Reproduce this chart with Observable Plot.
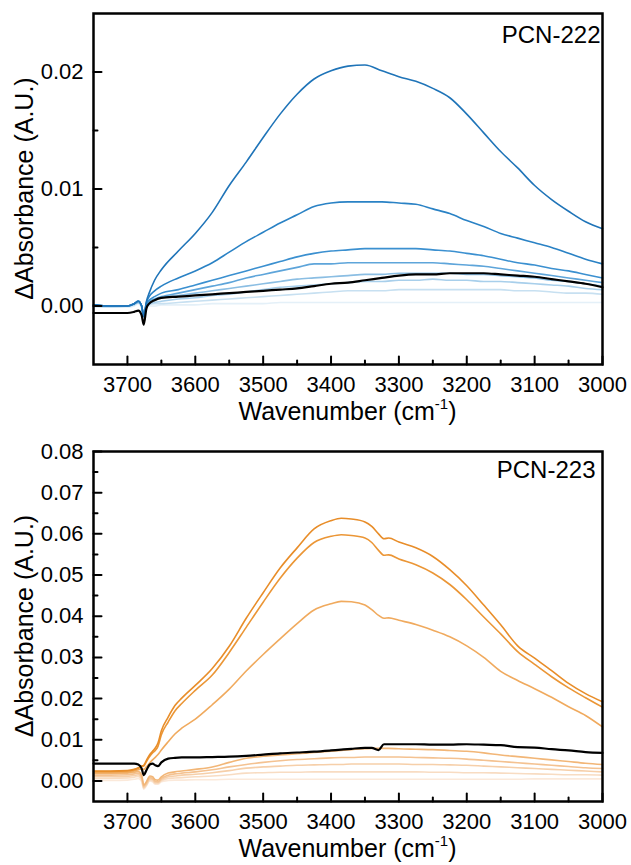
<!DOCTYPE html>
<html><head><meta charset="utf-8">
<script src="https://cdn.jsdelivr.net/npm/d3@7"></script>
<script src="https://cdn.jsdelivr.net/npm/@observablehq/plot@0.6"></script>
<style>
html,body{margin:0;padding:0;background:#fff;}
#chart{width:631px;}
#chart svg{display:block;}
</style></head><body><div id="chart"></div>
<script>
// ---------- Top panel: PCN-222 ----------
const wnTop = [3750,3725,3700,3690,3684,3679,3676,3672,3668,3660,3650,3625,3600,3575,3550,3525,3500,3475,3450,3425,3400,3375,3350,3325,3300,3275,3250,3225,3200,3175,3150,3125,3100,3075,3050,3025,3000];
const b1 = [0.0001,0.0000,0.0000,0.0002,0.0004,0.0000,-0.0009,0.0004,0.0011,0.0022,0.0031,0.0047, 0.0062,0.0080,0.0103,0.0123,0.0144,0.0164,0.0181,0.0194,0.0201,0.0205,0.0206,0.0201, 0.0196,0.0192,0.0186,0.0178,0.0164,0.0148,0.0132,0.0118,0.0103,0.0091,0.0081,0.0072,0.0066];
const b2 = [0.0001,0.0000,0.0000,0.0002,0.0004,0.0000,-0.0009,0.0003,0.0008,0.0013,0.0017,0.0024, 0.0030,0.0037,0.0046,0.0055,0.0063,0.0071,0.0078,0.0085,0.0088,0.0089,0.0089,0.0089, 0.0088,0.0087,0.0083,0.0079,0.0073,0.0068,0.0062,0.0058,0.0054,0.0050,0.0045,0.0040,0.0036];
const b3 = [0.0001,0.0000,0.0000,0.0002,0.0004,0.0000,-0.0009,0.0002,0.0005,0.0008,0.0011,0.0014, 0.0018,0.0022,0.0026,0.0030,0.0034,0.0038,0.0042,0.0045,0.0047,0.0048,0.0049,0.0049, 0.0049,0.0049,0.0048,0.0047,0.0045,0.0043,0.0040,0.0037,0.0035,0.0032,0.0030,0.0027,0.0024];
const b4 = [0.0000,0.0000,0.0000,0.0002,0.0004,0.0000,-0.0009,0.0001,0.0004,0.0006,0.0008,0.0011, 0.0014,0.0017,0.0020,0.0024,0.0027,0.0030,0.0033,0.0036,0.0036,0.0037,0.0037,0.0037, 0.0037,0.0037,0.0037,0.0036,0.0035,0.0034,0.0032,0.0030,0.0028,0.0026,0.0024,0.0022,0.0020];
const b5 = [0.0000,0.0000,0.0000,0.0002,0.0003,0.0000,-0.0009,0.0000,0.0003,0.0005,0.0007,0.0009, 0.0011,0.0013,0.0015,0.0017,0.0019,0.0021,0.0023,0.0024,0.0025,0.0026,0.0027,0.0027, 0.0028,0.0028,0.0028,0.0028,0.0027,0.0027,0.0026,0.0025,0.0024,0.0022,0.0021,0.0019,0.0017];
const b6 = [0.0000,0.0000,0.0000,0.0001,0.0003,-0.0001,-0.0009,0.0000,0.0002,0.0003,0.0004,0.0006, 0.0007,0.0009,0.0010,0.0012,0.0014,0.0016,0.0017,0.0018,0.0019,0.0020,0.0021,0.0021, 0.0022,0.0022,0.0023,0.0022,0.0022,0.0021,0.0021,0.0020,0.0019,0.0018,0.0017,0.0015,0.0014];
const b7 = [0.0000,-0.0001,0.0000,0.0001,0.0003,-0.0001,-0.0009,-0.0001,0.0001,0.0002,0.0002,0.0003, 0.0004,0.0005,0.0006,0.0007,0.0008,0.0009,0.0010,0.0011,0.0012,0.0013,0.0013,0.0013, 0.0014,0.0014,0.0014,0.0014,0.0014,0.0014,0.0014,0.0013,0.0013,0.0012,0.0011,0.0011,0.0010];
const b8 = [-0.0001,-0.0001,-0.0001,0.0000,0.0002,-0.0002,-0.0009,-0.0002,0.0000,0.0000,0.0001,0.0001, 0.0001,0.0002,0.0002,0.0002,0.0002,0.0003,0.0003,0.0003,0.0003,0.0003,0.0003,0.0003, 0.0003,0.0003,0.0003,0.0003,0.0003,0.0003,0.0003,0.0003,0.0003,0.0003,0.0003,0.0003,0.0003];
const k1 = [-0.0006,-0.0006,-0.0006,-0.0005,-0.0004,-0.0008,-0.0016,-0.0002,0.0002,0.0005,0.0007,0.0008, 0.0009,0.0010,0.0011,0.0012,0.0013,0.0014,0.0015,0.0017,0.0019,0.0020,0.0022,0.0024, 0.0026,0.0027,0.0027,0.0028,0.0028,0.0028,0.0027,0.0026,0.0025,0.0023,0.0021,0.0019,0.0016];
const blueSeries = [b8,b7,b6,b5,b4,b3,b2,b1];
const blueColors = ["#e4f0f8","#c7e0f1","#a8cfeb","#8bbee3","#5ea5da","#3b90d0","#2a82c5","#1f74b8"];
const yTopDomain = [-0.005, 0.025];
const yTopMajor = [0.00, 0.01, 0.02];
const yTopMinor = [0.005, 0.015];

// ---------- Bottom panel: PCN-223 ----------
const wnBot = [3750,3725,3700,3690,3684,3679,3676,3672,3667,3663,3659,3655,3650,3640,3630,3620,3600,3575,3550,3525,3500,3475,3450,3425,3400,3385,3370,3350,3340,3330,3322,3315,3300,3275,3250,3225,3200,3175,3150,3125,3100,3075,3050,3025,3000];
const o1 = [0.0024,0.0024,0.0025,0.0028,0.0032,0.0036,0.0038,0.0050,0.0064,0.0072,0.0080,0.0092, 0.0122,0.0155,0.0183,0.0201,0.0232,0.0273,0.0327,0.0395,0.0457,0.0517,0.0566,0.0612, 0.0632,0.0638,0.0636,0.0629,0.0618,0.0600,0.0588,0.0590,0.0580,0.0566,0.0545,0.0513, 0.0474,0.0427,0.0379,0.0328,0.0298,0.0268,0.0237,0.0212,0.0192];
const o2 = [0.0023,0.0023,0.0024,0.0027,0.0031,0.0035,0.0036,0.0047,0.0060,0.0068,0.0074,0.0084, 0.0112,0.0143,0.0170,0.0188,0.0220,0.0257,0.0312,0.0373,0.0434,0.0492,0.0541,0.0579, 0.0594,0.0598,0.0596,0.0590,0.0579,0.0560,0.0548,0.0549,0.0539,0.0525,0.0505,0.0477, 0.0440,0.0398,0.0357,0.0314,0.0283,0.0253,0.0226,0.0202,0.0179];
const o3 = [0.0020,0.0020,0.0021,0.0024,0.0027,0.0029,0.0028,0.0034,0.0044,0.0051,0.0057,0.0064, 0.0075,0.0095,0.0114,0.0128,0.0150,0.0185,0.0223,0.0267,0.0307,0.0345,0.0382,0.0415, 0.0430,0.0436,0.0435,0.0427,0.0416,0.0402,0.0395,0.0396,0.0390,0.0380,0.0366,0.0350, 0.0328,0.0300,0.0266,0.0244,0.0224,0.0203,0.0180,0.0159,0.0131];
const o4 = [0.0018,0.0018,0.0019,0.0021,0.0023,0.0014,-0.0010,-0.0002,0.0012,0.0010,0.0003,0.0002, 0.0010,0.0019,0.0022,0.0024,0.0028,0.0034,0.0045,0.0055,0.0060,0.0063,0.0066,0.0069, 0.0072,0.0074,0.0076,0.0078,0.0079,0.0079,0.0079,0.0079,0.0078,0.0077,0.0076,0.0074, 0.0072,0.0068,0.0063,0.0059,0.0055,0.0051,0.0047,0.0043,0.0040];
const o5 = [0.0014,0.0014,0.0015,0.0017,0.0019,0.0010,-0.0013,-0.0005,0.0008,0.0006,-0.0001,-0.0002, 0.0006,0.0014,0.0017,0.0019,0.0022,0.0027,0.0034,0.0040,0.0045,0.0049,0.0052,0.0054, 0.0056,0.0057,0.0057,0.0058,0.0058,0.0058,0.0058,0.0058,0.0058,0.0057,0.0056,0.0055, 0.0053,0.0050,0.0047,0.0044,0.0041,0.0038,0.0035,0.0032,0.0030];
const o6 = [0.0010,0.0010,0.0011,0.0013,0.0015,0.0006,-0.0016,-0.0008,0.0005,0.0003,-0.0004,-0.0004, 0.0003,0.0010,0.0012,0.0014,0.0016,0.0020,0.0025,0.0031,0.0034,0.0036,0.0038,0.0039, 0.0040,0.0040,0.0041,0.0041,0.0041,0.0041,0.0041,0.0041,0.0041,0.0040,0.0040,0.0039, 0.0038,0.0036,0.0034,0.0032,0.0030,0.0028,0.0026,0.0024,0.0022];
const o7 = [0.0006,0.0006,0.0007,0.0009,0.0011,0.0002,-0.0018,-0.0010,0.0002,0.0000,-0.0006,-0.0006, 0.0000,0.0006,0.0007,0.0008,0.0010,0.0012,0.0015,0.0019,0.0020,0.0021,0.0021,0.0022, 0.0022,0.0022,0.0022,0.0022,0.0022,0.0022,0.0022,0.0022,0.0022,0.0022,0.0021,0.0021, 0.0020,0.0020,0.0019,0.0018,0.0017,0.0016,0.0015,0.0015,0.0014];
const o8 = [0.0001,0.0001,0.0002,0.0004,0.0006,-0.0002,-0.0020,-0.0012,0.0000,-0.0002,-0.0008,-0.0008, -0.0002,0.0001,0.0002,0.0002,0.0003,0.0003,0.0004,0.0004,0.0004,0.0004,0.0004,0.0004, 0.0004,0.0004,0.0004,0.0004,0.0004,0.0004,0.0004,0.0004,0.0004,0.0004,0.0004,0.0004, 0.0004,0.0004,0.0004,0.0004,0.0005,0.0005,0.0005,0.0005,0.0005];
const k2 = [0.0042,0.0042,0.0042,0.0042,0.0040,0.0030,0.0014,0.0026,0.0040,0.0042,0.0038,0.0036, 0.0045,0.0054,0.0056,0.0057,0.0057,0.0058,0.0059,0.0061,0.0064,0.0067,0.0069,0.0071, 0.0074,0.0076,0.0078,0.0080,0.0080,0.0075,0.0089,0.0089,0.0089,0.0089,0.0088,0.0088, 0.0089,0.0088,0.0087,0.0082,0.0081,0.0077,0.0074,0.0070,0.0068];
const orangeSeries = [o8,o7,o6,o5,o4,o3,o2,o1];
const orangeColors = ["#fbe9da","#f8dcc2","#f6cfa9","#f4c291","#f2b677","#f0aa5e","#eb9636","#e88d29"];
const yBotDomain = [-0.005, 0.08];
const yBotMajor = [0.00,0.01,0.02,0.03,0.04,0.05,0.06,0.07,0.08];
const yBotMinor = [0.005,0.015,0.025,0.035,0.045,0.055,0.065,0.075];

// ---------- shared x axis ----------
const xDomain = [3750, 3000];
const xMajor = [3700,3600,3500,3400,3300,3200,3100,3000];
const xMinor = [3650,3550,3450,3350,3250,3150,3050];

const FONT = "'Liberation Sans', Arial, Helvetica, sans-serif";
const W = 631, ML = 93, MR = 29;

function rowsOf(wn, vals) { return wn.map((w, i) => ({w, v: vals[i]})); }

function panel({wn, series, colors, black, yDomain, yMajor, yMinor, name, height, marginTop, marginBottom, nameDx, nameDy}) {
  const fh = height - marginTop - marginBottom; // frame height (px)
  const fw = W - ML - MR;                         // frame width (px)
  const xTickRows = xMajor.map(t => ({t, len: 8})).concat(xMinor.map(t => ({t, len: 4})));
  const yTickRows = yMajor.map(t => ({t, len: 8})).concat(yMinor.map(t => ({t, len: 4})));
  const marks = [];
  series.forEach((s, i) => {
    marks.push(Plot.line(rowsOf(wn, s), {x: "w", y: "v", stroke: colors[i], strokeWidth: 1.6, curve: "monotone-x"}));
  });
  marks.push(Plot.line(rowsOf(wn, black), {x: "w", y: "v", stroke: "#000", strokeWidth: 2.2, curve: "monotone-x"}));
  // inward tick marks: vectors anchored on the frame edge, pointing into the plot
  marks.push(Plot.vector(xTickRows, {x: "t", frameAnchor: "bottom", length: "len", rotate: 0, anchor: "start", shape: {draw(ctx, l) { ctx.moveTo(0, 0); ctx.lineTo(0, -l); }}, stroke: "#000", strokeWidth: 2}));
  marks.push(Plot.vector(yTickRows, {y: "t", frameAnchor: "left", length: "len", rotate: 90, anchor: "start", shape: {draw(ctx, l) { ctx.moveTo(0, 0); ctx.lineTo(0, -l); }}, stroke: "#000", strokeWidth: 2}));
  // tick labels
  marks.push(Plot.axisX(xMajor, {anchor: "bottom", tickSize: 0, tickPadding: 12, fontSize: 22, tickFormat: d => String(d), label: null}));
  marks.push(Plot.axisY(yMajor, {anchor: "left", tickSize: 0, tickPadding: 10, fontSize: 22, tickFormat: d3.format(".2f"), label: null}));
  marks.push(Plot.frame({stroke: "#000", strokeWidth: 2.5}));
  marks.push(Plot.text([name], {frameAnchor: "top-right", textAnchor: "end", lineAnchor: "top", dx: nameDx, dy: nameDy, fontSize: 24, fill: "#000"}));
  return Plot.plot({
    width: W, height, marginTop, marginBottom, marginLeft: ML, marginRight: MR,
    style: {fontFamily: FONT, color: "#000", background: "#fff", overflow: "visible"},
    x: {domain: xDomain},
    y: {domain: yDomain},
    length: {type: "identity"},
    marks
  });
}

function addTitles(svg, xBaseline, yCenter) {
  const s = d3.select(svg);
  const xt = s.append("text")
    .attr("x", (ML + W - MR) / 2).attr("y", xBaseline)
    .attr("text-anchor", "middle").attr("font-family", FONT).attr("font-size", 25).attr("fill", "#000");
  xt.append("tspan").text("Wavenumber (cm");
  xt.append("tspan").attr("dy", -11).attr("font-size", 15).text("-1");
  xt.append("tspan").attr("dy", 11).text(")");
  s.append("text")
    .attr("transform", `translate(33,${yCenter}) rotate(-90)`)
    .attr("text-anchor", "middle").attr("font-family", FONT).attr("font-size", 25).attr("fill", "#000")
    .text("\u0394Absorbance (A.U.)");
}

const chartEl = document.getElementById("chart");
const svgTop = panel({wn: wnTop, series: blueSeries, colors: blueColors, black: k1, yDomain: yTopDomain, yMajor: yTopMajor, yMinor: yTopMinor, name: "PCN-222", height: 430, marginTop: 13, marginBottom: 66, nameDx: -2, nameDy: 12});
addTitles(svgTop, 420, 188.5);
chartEl.appendChild(svgTop);
const svgBot = panel({wn: wnBot, series: orangeSeries, colors: orangeColors, black: k2, yDomain: yBotDomain, yMajor: yBotMajor, yMinor: yBotMinor, name: "PCN-223", height: 435, marginTop: 21, marginBottom: 64, nameDx: -7, nameDy: 9});
addTitles(svgBot, 427, 196);
chartEl.appendChild(svgBot);
</script>
</body></html>
